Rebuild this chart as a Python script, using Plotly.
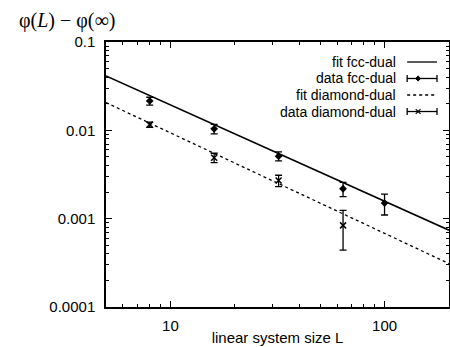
import plotly.graph_objects as go
import numpy as np

# data
L_fcc = [8, 16, 32, 64, 100]
phi_fcc = [0.0215, 0.0104, 0.0051, 0.00218, 0.0015]
err_fcc = [0.0022, 0.0013, 0.0006, 0.0004, 0.0004]

L_dia = [8, 16, 32, 64]
phi_dia = [0.0116, 0.0049, 0.0027, 0.00084]
err_dia = [0.0008, 0.0006, 0.0004, 0.0004]

fit_L = [5, 200]
fit_fcc = [0.0413, 0.00074]
fit_dia = [0.0206, 0.00031]

x_ticks = [10, 100]
x_minor = [6, 7, 8, 9, 20, 30, 40, 50, 60, 70, 80, 90, 200]
y_ticks = [0.1, 0.01, 0.001, 0.0001]
y_labels = ["0.1", "0.01", "0.001", "0.0001"]
y_minor = [m * d for d in (1e-4, 1e-3, 1e-2) for m in range(2, 10)]

legend_labels = ["fit fcc-dual", "data fcc-dual", "fit diamond-dual", "data diamond-dual"]

FONT = "Liberation Sans, Arial, sans-serif"
FS = 15
LFS = 14

fig = go.Figure()
fig.add_trace(go.Scatter(x=fit_L, y=fit_fcc, mode="lines",
                         line=dict(color="black", width=1.6), showlegend=False))
fig.add_trace(go.Scatter(x=L_fcc, y=phi_fcc, mode="markers",
                         marker=dict(symbol="diamond", size=6, color="black"),
                         error_y=dict(type="data", array=err_fcc, color="black", thickness=1.3, width=3.5),
                         showlegend=False))
fig.add_trace(go.Scatter(x=fit_L, y=fit_dia, mode="lines",
                         line=dict(color="black", width=1.3, dash="dot"), showlegend=False))
fig.add_trace(go.Scatter(x=L_dia, y=phi_dia, mode="markers",
                         marker=dict(symbol="x-thin", size=6, color="black",
                                     line=dict(color="black", width=1.5)),
                         error_y=dict(type="data", array=err_dia, color="black", thickness=1.3, width=3.5),
                         showlegend=False))

axis_common = dict(type="log", ticks="inside", ticklen=6, tickwidth=1, tickcolor="black",
                   showline=True, linecolor="black", linewidth=1.5, mirror="ticks",
                   showgrid=False, zeroline=False, automargin=False,
                   tickfont=dict(family=FONT, size=FS, color="black"))

fig.update_xaxes(**axis_common, range=[np.log10(5), np.log10(200)], tickmode="array",
                 tickvals=x_ticks, ticktext=[str(v) for v in x_ticks], ticklabelstandoff=4,
                 minor=dict(tickmode="array", tickvals=x_minor, ticks="inside", ticklen=3,
                            tickcolor="black", tickwidth=1, showgrid=False),
                 title=dict(text="linear system size L", font=dict(family=FONT, size=FS, color="black"),
                            standoff=0))
fig.update_yaxes(**axis_common, range=[-4, -1], tickmode="array", tickvals=y_ticks,
                 ticktext=y_labels, ticklabelstandoff=6,
                 minor=dict(tickmode="array", tickvals=y_minor, ticks="inside", ticklen=3,
                            tickcolor="black", tickwidth=1, showgrid=False))

# legend built manually (text right, sample at right like gnuplot)
rows_y = [0.9245, 0.8623, 0.8000, 0.7377]
tx = 0.848
sx0, sx1 = 0.878, 0.965
mx = 0.910
cap = 0.013
annotations = []
shapes = []
for i, lab in enumerate(legend_labels):
    y = rows_y[i]
    annotations.append(dict(x=tx, y=y, xref="paper", yref="paper", text=lab,
                            showarrow=False, xanchor="right", yanchor="middle",
                            borderpad=0,
                            font=dict(family=FONT, size=LFS, color="black")))
    dash = "dot" if i == 2 else "solid"
    shapes.append(dict(type="line", xref="paper", yref="paper", x0=sx0, x1=sx1, y0=y, y1=y,
                       line=dict(color="black", width=1.3, dash=dash)))
    if i in (1, 3):
        for xx in (sx0, sx1):
            shapes.append(dict(type="line", xref="paper", yref="paper", x0=xx, x1=xx,
                               y0=y - cap, y1=y + cap, line=dict(color="black", width=1.3)))
        if i == 1:
            dx, dy = 0.0075, 0.0095
            shapes.append(dict(type="path", xref="paper", yref="paper",
                               path=f"M {mx-dx} {y} L {mx} {y+dy} L {mx+dx} {y} L {mx} {y-dy} Z",
                               fillcolor="black", line=dict(color="black", width=1)))
        else:
            dx, dy = 0.007, 0.009
            shapes.append(dict(type="line", xref="paper", yref="paper", x0=mx-dx, x1=mx+dx,
                               y0=y-dy, y1=y+dy, line=dict(color="black", width=1.2)))
            shapes.append(dict(type="line", xref="paper", yref="paper", x0=mx-dx, x1=mx+dx,
                               y0=y+dy, y1=y-dy, line=dict(color="black", width=1.2)))

annotations.append(dict(x=-0.259, y=1.083, xref="paper", yref="paper",
                        text="φ(<i>L</i>) − φ(∞)", showarrow=False, xanchor="left", yanchor="middle",
                        font=dict(family="Liberation Serif, Times New Roman, serif", size=20, color="black")))

fig.update_layout(width=450, height=347, margin=dict(l=106, r=1, t=42, b=40, autoexpand=False),
                  paper_bgcolor="white", plot_bgcolor="white",
                  annotations=annotations, shapes=shapes, showlegend=False)

fig.write_html("out.html", config={"displayModeBar": False},
               post_script="document.body.style.margin='0px';")
